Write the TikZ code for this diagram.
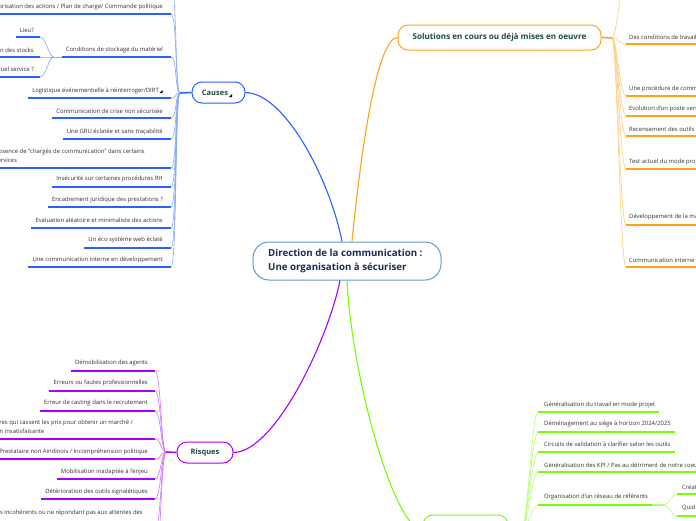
\documentclass[tikz,border=0pt]{standalone}
\usepackage{fontspec}
\setmainfont{Open Sans}
\usetikzlibrary{calc}
\definecolor{cblue}{HTML}{2962FF}
\definecolor{corange}{HTML}{FFA31A}
\definecolor{cpurple}{HTML}{AA00FF}
\definecolor{cgreen}{HTML}{76FF03}
\definecolor{cnavy}{HTML}{1C2A5A}
\definecolor{ctitle}{HTML}{1E4D3F}
\definecolor{ctext}{HTML}{333333}
\definecolor{ccentral}{HTML}{5B9BD5}
\tikzset{
 leaf/.style={inner sep=0pt, font=\fontsize{5.9}{9}\selectfont, text=ctext, align=left},
 ul/.style={draw=#1, line width=1.7pt},
 conn/.style={draw=#1!55, line width=0.6pt},
 mainconn/.style={draw=#1, line width=1.1pt},
 stub/.style={draw=#1, line width=1.6pt},
 bnode/.style={draw=#1, line width=1pt, fill=white, rounded corners=10pt, inner sep=0pt, font=\fontsize{7.5}{9}\selectfont\bfseries, text=ctitle},
}
% left leaf: #1 name, #2 colour, #3 branch coordinate, #4 text y, #5 underline y, #6 text
\newcommand\Lleaf[6]{%
 \node[leaf,anchor=east] (#1) at (\LX,#4) {#6};
 \path (#1.west) ++(-4,0) coordinate (#1t);
 \coordinate (#1a) at (#1t |- 0,#5);
 \coordinate (#1b) at (\LU,#5);
 \draw[ul=#2] (#1a) -- (#1b);
 \draw[conn=#2] (#3) .. controls ($(#3)+(-5,0)$) and ($(#1b)+(6,0)$) .. (#1b);
}
% right leaf
\newcommand\Rleaf[6]{%
 \node[leaf,anchor=west] (#1) at (\RX,#4) {#6};
 \coordinate (#1a) at (\RU,#5);
 \path (#1.east) ++(4,0) coordinate (#1t);
 \coordinate (#1b) at (#1t |- 0,#5);
 \draw[ul=#2] (#1a) -- (#1b);
 \ifx\RUext\relax\else \draw[ul=#2] (#1a) -- (\RUext,#5);\fi
 \draw[conn=#2] (#3) .. controls ($(#3)+(5,0)$) and ($(#1a)+(-6,0)$) .. (#1a);
}
\begin{document}
\begin{tikzpicture}[x=1pt,y=-1pt]
\useasboundingbox (0,0) rectangle (696,520);
\clip (0,0) rectangle (696,520);
\fill[white] (0,0) rectangle (696,520);

% ---------- central and branch nodes
\node[draw=ccentral, line width=1pt, fill=white, rounded corners=16pt, minimum width=188pt, minimum height=38pt, inner sep=0pt] (c) at (347,261) {};
\node[anchor=west, inner sep=0pt, align=left, font=\fontsize{9.7}{14}\selectfont\bfseries, text=cnavy] (ct) at (268,261) {Direction de la communication :\\Une organisation à sécuriser};

\node[bnode=cblue, minimum width=53pt, minimum height=21pt] (ca) at (218.5,92.5) {};
\node[inner sep=0pt, font=\fontsize{7.5}{9}\selectfont\bfseries, text=ctitle] (cat) at (215,93) {Causes};
\fill[black] (229,97) -- (232,97) -- (232,94) -- cycle;

\node[bnode=corange, minimum width=203pt, minimum height=25pt, font=\fontsize{8.1}{9}\selectfont\bfseries] (so) at (499.5,37.5) {Solutions en cours ou déjà mises en oeuvre};
\node[bnode=cpurple, minimum width=56pt, minimum height=21pt] (ri) at (205,452.5) {Risques};
\node[bnode=cgreen, minimum width=85pt, minimum height=30pt] (gn) at (465.5,530) {};

% ---------- main connectors
\coordinate (cN1) at ($(c.north)+(-5,0)$);
\coordinate (cN2) at ($(c.north)+(5,0)$);
\coordinate (cS1) at ($(c.south)+(-7,0)$);
\coordinate (cS2) at ($(c.south)+(0,0)$);
\draw[mainconn=cblue] (ca.east) .. controls (285,93) and (330,180) .. (cN1);
\draw[mainconn=corange] (cN2) .. controls (362,140) and (378,38) .. (so.west);
\draw[mainconn=cpurple] (cS1) .. controls (328,340) and (275,452) .. (ri.east);
\draw[mainconn=cgreen] (cS2) .. controls (352,380) and (395,530) .. (gn.west);

% ---------- Causes
\coordinate (cb) at (180,93);
\draw[stub=cblue] (ca.west) -- (cb);
\def\LX{163}\def\LU{171}
\Lleaf{l0}{cblue}{cb}{-22}{-15}{}
\Lleaf{l1}{cblue}{cb}{7}{14}{Priorisation des actions / Plan de charge/ Commande politique}
\Lleaf{l2}{cblue}{cb}{50}{57}{Conditions de stockage du matériel}
\Lleaf{l3}{cblue}{cb}{91}{98}{Logistique événementielle à réinterroger/DIRT\hspace{4pt}}
\fill[black] ($(l3.east)+(-3.5,2)$) -- ++(3,0) -- ++(0,-3) -- cycle;
\Lleaf{l4}{cblue}{cb}{111}{118}{Communication de crise non sécurisée}
\Lleaf{l5}{cblue}{cb}{132}{139}{Une GRU éclatée et sans traçabilité}
\def\LX{145}
\Lleaf{l6}{cblue}{cb}{156}{168}{Absence de "chargés de communication" dans certains\\services}
\def\LX{163}
\Lleaf{l7}{cblue}{cb}{179}{187}{Insécurité sur certaines procédures RH}
\Lleaf{l8}{cblue}{cb}{200}{207}{Encadrement juridique des prestations ?}
\Lleaf{l9}{cblue}{cb}{220}{228}{Evaluation aléatoire et minimaliste des actions}
\Lleaf{l10}{cblue}{cb}{240}{248}{Un éco système web éclaté}
\Lleaf{l11}{cblue}{cb}{260}{267}{Une communication interne en développement}
% sub-branch of Conditions
\path (l2a) ++(-8,0) coordinate (c2b);
\draw[conn=cblue] (l2a) -- (c2b);
\def\LX{34}\def\LU{40}
\Lleaf{s1}{cblue}{c2b}{30}{37}{Lieu?}
\Lleaf{s2}{cblue}{c2b}{50}{57}{Gestion des stocks}
\Lleaf{s3}{cblue}{c2b}{70}{77}{Quel service ?}

% ---------- Risques
\coordinate (rb) at (166,452);
\draw[stub=cpurple] (ri.west) -- (rb);
\def\LX{148}\def\LU{155}
\Lleaf{r1}{cpurple}{rb}{363}{371}{Démobilisation des agents}
\Lleaf{r2}{cpurple}{rb}{383}{391}{Erreurs ou fautes professionnelles}
\Lleaf{r3}{cpurple}{rb}{403}{411}{Erreur de casting dans le recrutement}
\def\LX{133}
\Lleaf{r4}{cpurple}{rb}{427}{439}{Prestataires qui cassent les prix pour obtenir un marché /\\Prestation insatisfaisante}
\def\LX{148}
\Lleaf{r5}{cpurple}{rb}{452}{459}{Prestataire non Aindinois / Incompréhension politique}
\Lleaf{r6}{cpurple}{rb}{472}{479}{Mobilisation inadaptée à l'enjeu}
\Lleaf{r7}{cpurple}{rb}{492}{499}{Détérioration des outils signalétiques}
\def\LX{143}
\Lleaf{r8}{cpurple}{rb}{517}{530}{Supports incohérents ou ne répondant pas aux attentes des\\usagers}
\def\LX{148}
\Lleaf{r9}{cpurple}{rb}{553}{560}{}

% ---------- Solutions
\coordinate (sb) at (612,38);
\draw[stub=corange] (so.east) -- (sb);
\def\RX{629}\def\RU{626}\def\RUext{700}
\Rleaf{o0}{corange}{sb}{-27}{-20}{}
\Rleaf{o1}{corange}{sb}{37}{44}{Des conditions de travail}
\Rleaf{o2}{corange}{sb}{89}{96}{Une procédure de communication}
\Rleaf{o3}{corange}{sb}{109}{116}{Evolution d'un poste vers}
\Rleaf{o4}{corange}{sb}{129}{136}{Recensement des outils}
\Rleaf{o5}{corange}{sb}{162}{169}{Test actuel du mode projet}
\Rleaf{o6}{corange}{sb}{217}{225}{Développement de la marque}
\Rleaf{o7}{corange}{sb}{260}{267}{Communication interne}

% ---------- green branch
\coordinate (gb) at (522,530);
\draw[stub=cgreen] (gn.east) -- (gb);
\def\RX{544}\def\RU{538}\let\RUext\relax
\Rleaf{g1}{cgreen}{gb}{405}{412}{Généralisation du travail en mode projet}
\Rleaf{g2}{cgreen}{gb}{424}{432}{Déménagement au siège à horizon 2024/2025}
\Rleaf{g3}{cgreen}{gb}{444}{452}{Circuits de validation à clarifier selon les outils}
\Rleaf{g4}{cgreen}{gb}{465}{472}{Généralisation des KPI / Pas au détriment de notre coeur de métier}
\Rleaf{g5}{cgreen}{gb}{497}{505}{Organisation d'un réseau de référents}
\path (g5b) ++(12,0) coordinate (ob);
\draw[conn=cgreen, line width=1.2pt] (g5b) -- (ob);
\def\RX{682}\def\RU{677}\def\RUext{700}
\Rleaf{q1}{cgreen}{ob}{487}{494}{Création}
\Rleaf{q2}{cgreen}{ob}{508}{516}{Quid}
\end{tikzpicture}
\end{document}
